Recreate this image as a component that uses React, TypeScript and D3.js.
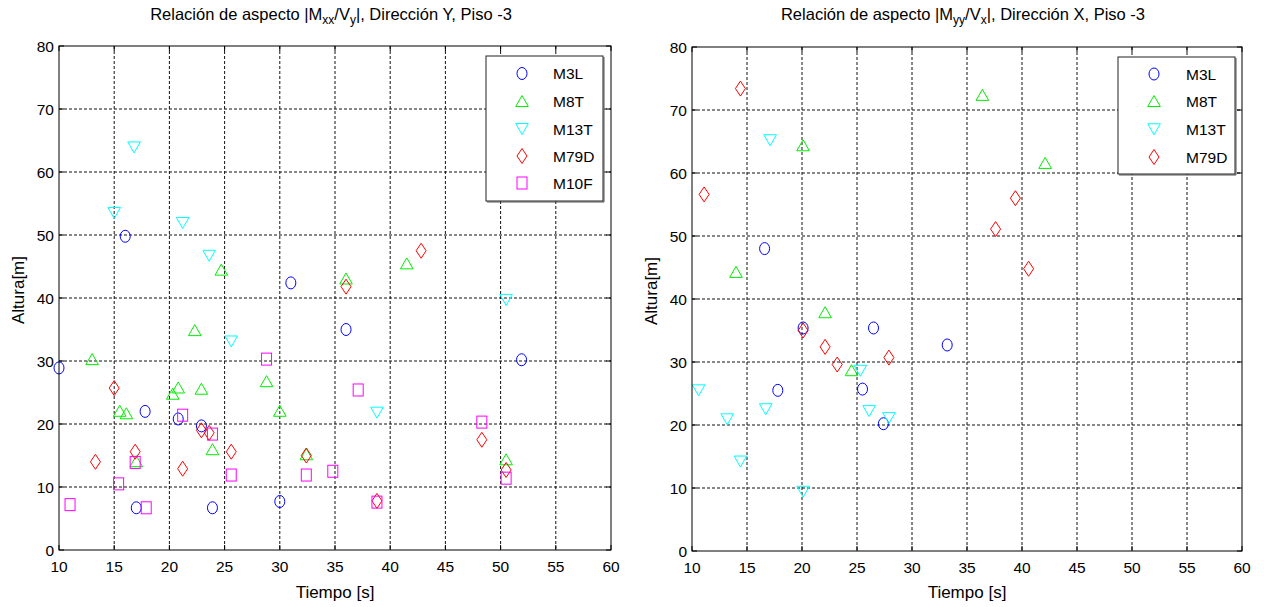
import React from "react";
import * as d3 from "d3";

// ---------- data ----------
const seriesNamesLeft = ["M3L", "M8T", "M13T", "M79D", "M10F"];
const seriesNamesRight = ["M3L", "M8T", "M13T", "M79D"];

const leftM3L: [number, number][] = [[10.0, 28.9], [16.0, 49.8], [17.8, 22.0], [20.8, 20.8], [22.9, 19.7], [17.0, 6.7], [23.9, 6.7], [30.0, 7.7], [31.0, 42.4], [36.0, 35.0], [51.9, 30.2]];
const leftM8T: [number, number][] = [[13.0, 30.3], [15.5, 22.1], [16.1, 21.7], [17.0, 14.1], [20.3, 24.8], [20.8, 25.8], [22.3, 34.9], [22.9, 25.6], [23.9, 16.0], [24.7, 44.5], [28.8, 26.8], [30.0, 22.1], [32.4, 15.2], [36.0, 43.1], [41.5, 45.5], [50.5, 14.4]];
const leftM13T: [number, number][] = [[15.0, 53.5], [16.8, 63.9], [21.2, 51.9], [23.6, 46.7], [25.6, 33.1], [38.8, 21.8], [50.5, 39.7]];
const leftM79D: [number, number][] = [[13.3, 14.0], [15.0, 25.7], [16.9, 15.6], [21.2, 12.9], [22.9, 19.0], [23.6, 18.6], [25.6, 15.6], [32.4, 15.0], [36.0, 41.8], [38.8, 7.8], [42.8, 47.5], [48.3, 17.5], [50.5, 12.7]];
const leftM10F: [number, number][] = [[11.0, 7.2], [15.4, 10.5], [16.9, 13.9], [17.9, 6.7], [21.2, 21.4], [23.9, 18.4], [25.6, 11.9], [28.8, 30.3], [32.4, 11.9], [34.8, 12.5], [37.1, 25.4], [38.8, 7.6], [48.3, 20.3], [50.5, 11.4]];

const rightM3L: [number, number][] = [[16.6, 48.0], [17.8, 25.5], [20.1, 35.4], [25.5, 25.7], [26.5, 35.4], [27.4, 20.2], [33.2, 32.7]];
const rightM8T: [number, number][] = [[14.0, 44.3], [20.1, 64.4], [22.1, 37.9], [24.5, 28.7], [36.4, 72.4], [42.1, 61.6]];
const rightM13T: [number, number][] = [[10.6, 25.5], [13.2, 20.9], [14.4, 14.2], [16.7, 22.5], [17.1, 65.2], [20.1, 9.4], [25.3, 28.6], [26.1, 22.2], [27.9, 21.1]];
const rightM79D: [number, number][] = [[11.1, 56.6], [14.4, 73.4], [20.1, 35.0], [22.1, 32.4], [23.2, 29.6], [27.9, 30.7], [37.6, 51.1], [39.4, 56.0], [40.6, 44.8]];

const xTicks = [10, 15, 20, 25, 30, 35, 40, 45, 50, 55, 60];
const yTicks = [0, 10, 20, 30, 40, 50, 60, 70, 80];

// ---------- styles ----------
const FONT = "'Liberation Sans', Arial, sans-serif";
const markerStyle: Record<string, { shape: string; color: string }> = {
  M3L: { shape: "circle", color: "#0000ff" },
  M8T: { shape: "up", color: "#00ee00" },
  M13T: { shape: "down", color: "#00ffff" },
  M79D: { shape: "diamond", color: "#ff0000" },
  M10F: { shape: "square", color: "#ff00ff" },
};

function Marker({ x, y, name }: { x: number; y: number; name: string }) {
  const { shape, color } = markerStyle[name];
  const common = { fill: "none", stroke: color, strokeWidth: 1 };
  if (shape === "circle") return <ellipse cx={x} cy={y} rx={5} ry={6} {...common} />;
  if (shape === "square") return <rect x={x - 5} y={y - 6} width={10} height={12} {...common} />;
  if (shape === "up") return <polygon points={`${x},${y - 5.5} ${x + 6.3},${y + 5.5} ${x - 6.3},${y + 5.5}`} {...common} />;
  if (shape === "down") return <polygon points={`${x},${y + 5.5} ${x + 6.3},${y - 5.5} ${x - 6.3},${y - 5.5}`} {...common} />;
  return <polygon points={`${x},${y - 7.5} ${x + 5},${y} ${x},${y + 7.5} ${x - 5},${y}`} {...common} />;
}

type PanelProps = {
  x0: number; x1: number; y0: number; y1: number;
  series: { name: string; data: [number, number][] }[];
  title: React.ReactNode;
  legend: { x0: number; x1: number; y0: number; y1: number; mx: number; tx: number; rows: number[] };
};

function Panel({ x0, x1, y0, y1, series, title, legend }: PanelProps) {
  const xs = d3.scaleLinear().domain([10, 60]).range([x0, x1]);
  const ys = d3.scaleLinear().domain([0, 80]).range([y1, y0]);
  const tl = 5;
  return (
    <g fontFamily={FONT}>
      <rect x={x0} y={y0} width={x1 - x0} height={y1 - y0} fill="#fff" />
      {/* grid */}
      {xTicks.slice(1, -1).map((t) => (
        <line key={"gx" + t} x1={xs(t)} x2={xs(t)} y1={y0} y2={y1} stroke="#111" strokeDasharray="3,2" strokeWidth={1} />
      ))}
      {yTicks.slice(1, -1).map((t) => (
        <line key={"gy" + t} x1={x0} x2={x1} y1={ys(t)} y2={ys(t)} stroke="#111" strokeDasharray="3,2" strokeWidth={1} />
      ))}
      {/* ticks */}
      {xTicks.map((t) => (
        <g key={"tx" + t}>
          <line x1={xs(t)} x2={xs(t)} y1={y1} y2={y1 - tl} stroke="#000" />
          <line x1={xs(t)} x2={xs(t)} y1={y0} y2={y0 + tl} stroke="#000" />
          <text x={xs(t)} y={y1 + 22} fontSize={15.5} textAnchor="middle">{t}</text>
        </g>
      ))}
      {yTicks.map((t) => (
        <g key={"ty" + t}>
          <line x1={x0} x2={x0 + tl} y1={ys(t)} y2={ys(t)} stroke="#000" />
          <line x1={x1} x2={x1 - tl} y1={ys(t)} y2={ys(t)} stroke="#000" />
          <text x={x0 - 5} y={ys(t) + 5.5} fontSize={15.5} textAnchor="end">{t}</text>
        </g>
      ))}
      {/* data */}
      {series.map((s) => (
        <g key={s.name}>
          {s.data.map((d, i) => (
            <Marker key={i} x={xs(d[0])} y={ys(d[1])} name={s.name} />
          ))}
        </g>
      ))}
      {/* box */}
      <rect x={x0} y={y0} width={x1 - x0} height={y1 - y0} fill="none" stroke="#000" strokeWidth={1} />
      {/* legend */}
      <line x1={legend.x0 + 1} x2={legend.x1 + 1} y1={legend.y1 + 1} y2={legend.y1 + 1} stroke="#555" strokeWidth={1} />
      <line x1={legend.x1 + 1} x2={legend.x1 + 1} y1={legend.y0 + 1} y2={legend.y1 + 1} stroke="#555" strokeWidth={1} />
      <rect x={legend.x0} y={legend.y0} width={legend.x1 - legend.x0} height={legend.y1 - legend.y0} fill="#fff" stroke="#222" strokeWidth={1} />
      {series.map((s, i) => (
        <g key={"lg" + s.name}>
          <Marker x={legend.mx} y={legend.rows[i]} name={s.name} />
          <text x={legend.tx} y={legend.rows[i] + 5.5} fontSize={15.5}>{s.name}</text>
        </g>
      ))}
      {/* labels */}
      <text x={(x0 + x1) / 2} y={598} fontSize={17} textAnchor="middle">Tiempo [s]</text>
      <text transform={`translate(${x0 - 35},${(y0 + y1) / 2 - 8}) rotate(-90)`} fontSize={17} textAnchor="middle">Altura[m]</text>
      <text x={(x0 + x1) / 2 - 4} y={20} fontSize={16.5} textAnchor="middle">{title}</text>
    </g>
  );
}

export default function App() {
  const leftSeries = [
    { name: seriesNamesLeft[0], data: leftM3L },
    { name: seriesNamesLeft[1], data: leftM8T },
    { name: seriesNamesLeft[2], data: leftM13T },
    { name: seriesNamesLeft[3], data: leftM79D },
    { name: seriesNamesLeft[4], data: leftM10F },
  ];
  const rightSeries = [
    { name: seriesNamesRight[0], data: rightM3L },
    { name: seriesNamesRight[1], data: rightM8T },
    { name: seriesNamesRight[2], data: rightM13T },
    { name: seriesNamesRight[3], data: rightM79D },
  ];
  const sub = { fontSize: 12 } as const;
  const leftTitle = (
    <>
      <tspan>Relación de aspecto |M</tspan>
      <tspan dy={4} {...sub}>xx</tspan>
      <tspan dy={-4}>/V</tspan>
      <tspan dy={4} {...sub}>y</tspan>
      <tspan dy={-4}>|, Dirección Y, Piso -3</tspan>
    </>
  );
  const rightTitle = (
    <>
      <tspan>Relación de aspecto |M</tspan>
      <tspan dy={4} {...sub}>yy</tspan>
      <tspan dy={-4}>/V</tspan>
      <tspan dy={4} {...sub}>x</tspan>
      <tspan dy={-4}>|, Dirección X, Piso -3</tspan>
    </>
  );
  return (
    <svg width={1264} height={607} style={{ position: "absolute", left: 0, top: 0, background: "#fff" }}>
      <rect width={1264} height={607} fill="#fff" />
      <Panel x0={59} x1={611} y0={46} y1={550} series={leftSeries} title={leftTitle}
        legend={{ x0: 486, x1: 603, y0: 56, y1: 201, mx: 522, tx: 553, rows: [73.5, 101, 129, 156, 183] }} />
      <Panel x0={692} x1={1242} y0={47} y1={551} series={rightSeries} title={rightTitle}
        legend={{ x0: 1118, x1: 1235, y0: 57, y1: 174, mx: 1154, tx: 1186, rows: [74, 101, 129.3, 157] }} />
    </svg>
  );
}
